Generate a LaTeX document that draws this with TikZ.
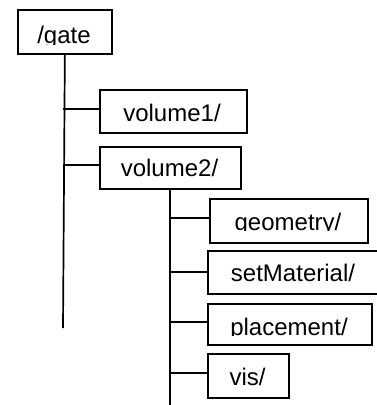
\documentclass[tikz,border=0pt]{standalone}
\usepackage{fontspec}
\setmainfont{Liberation Sans}
\begin{document}
\begin{tikzpicture}[x=1pt,y=-1pt,
  box/.style={draw, line width=1.7pt, inner sep=0pt, anchor=north west},
  lbl/.style={font=\fontsize{24}{24}\selectfont, anchor=base, inner sep=0pt},
  conn/.style={line width=1.7pt}]
\useasboundingbox[fill=white] (0,0) rectangle (377,405);
% boxes
\node[box, minimum width=94pt, minimum height=44pt] (gate) at (17,9) {};
\node[box, minimum width=147pt, minimum height=43pt] (vol1) at (99,89) {};
\node[box, minimum width=141pt, minimum height=42pt] (vol2) at (99,146) {};
\node[box, minimum width=158pt, minimum height=44pt] (geom) at (209,198) {};
\node[box, minimum width=173pt, minimum height=43pt] (setm) at (207,250) {};
\node[box, minimum width=164pt, minimum height=41pt] (plac) at (207,303) {};
\node[box, minimum width=81pt, minimum height=44pt] (vis) at (207,353) {};
% labels (clipped at the baseline as in the reference)
\begin{scope}\clip (17,9) rectangle (111,44); \node[lbl] (tgate) at (64,43.3) {/gate};\end{scope}
\begin{scope}\clip (99,89) rectangle (246,122.4); \node[lbl] (tvol1) at (172,121.7) {volume1/};\end{scope}
\begin{scope}\clip (99,146) rectangle (240,177.4); \node[lbl] (tvol2) at (169.5,176.7) {volume2/};\end{scope}
\begin{scope}\clip (209,198) rectangle (367,230.7); \node[lbl] (tgeom) at (288,230) {geometry/};\end{scope}
\begin{scope}\clip (207,250) rectangle (380,282.4); \node[lbl] (tsetm) at (293,281.7) {setMaterial/};\end{scope}
\begin{scope}\clip (207,303) rectangle (371,335.7); \node[lbl] (tplac) at (289,335) {placement/};\end{scope}
\begin{scope}\clip (207,353) rectangle (288,386); \node[lbl] (tvis) at (247.5,385) {vis/};\end{scope}
% trunk 1
\coordinate (t1end) at (63,328);
\draw[conn] (gate.south) -- (t1end);
\coordinate (b1) at (63,109);
\coordinate (b2) at (63,165);
\draw[conn] (b1) -- (vol1.west |- b1);
\draw[conn] (b2) -- ([xshift=2pt]vol2.west |- b2);
% trunk 2
\coordinate (t2top) at (170,188);
\coordinate (t2end) at (170,405);
\draw[conn] (t2top) -- (t2end);
\coordinate (c1) at (170,218);
\coordinate (c2) at (170,272);
\coordinate (c3) at (170,322);
\coordinate (c4) at (170,373);
\draw[conn] (c1) -- (geom.west |- c1);
\draw[conn] (c2) -- (setm.west |- c2);
\draw[conn] (c3) -- (plac.west |- c3);
\draw[conn] (c4) -- (vis.west |- c4);
\end{tikzpicture}
\end{document}
